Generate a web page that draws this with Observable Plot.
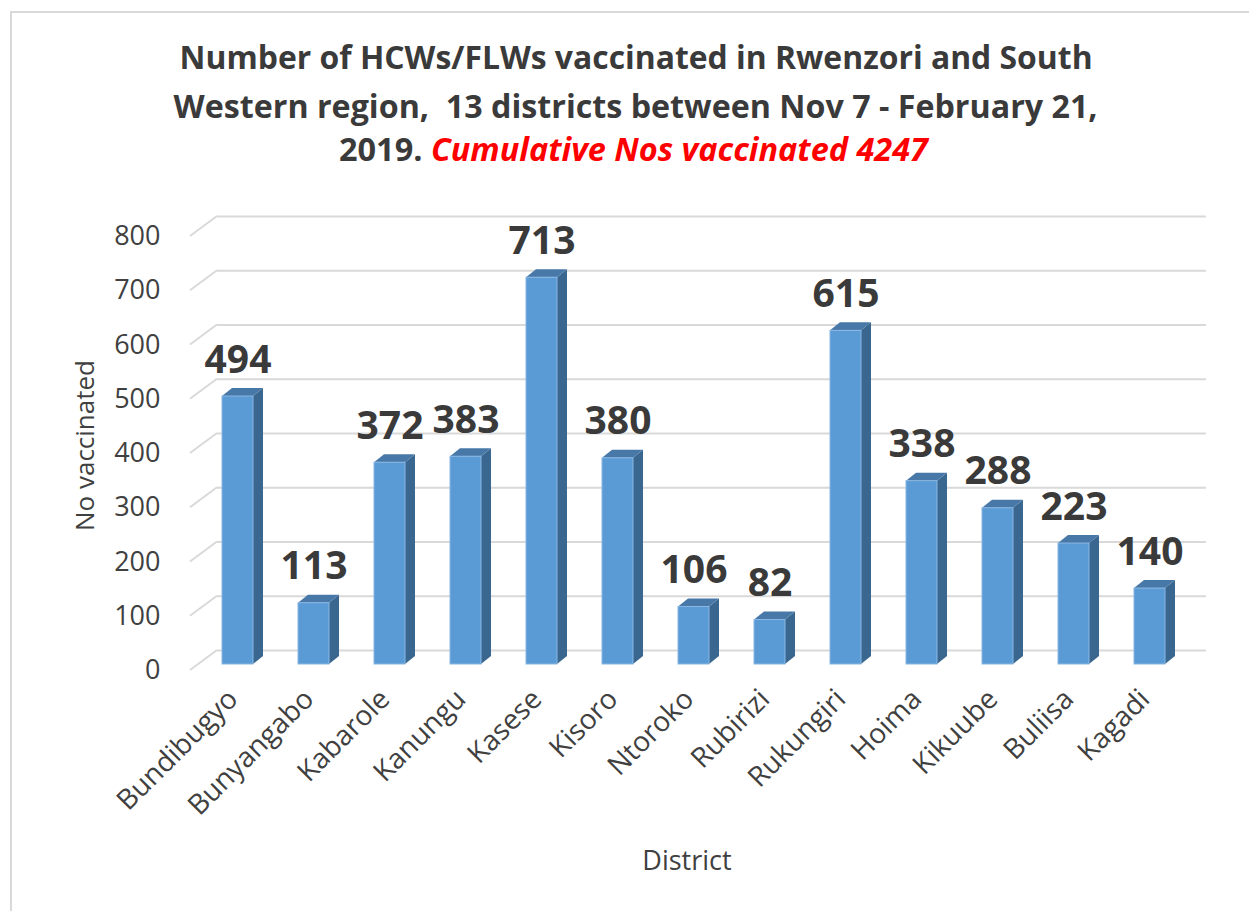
<!DOCTYPE html>
<html><head><meta charset="utf-8">
<script src="https://cdn.jsdelivr.net/npm/d3@7"></script>
<script src="https://cdn.jsdelivr.net/npm/@observablehq/plot@0.6"></script>
<style>
html,body{margin:0;padding:0;background:#fff;}
#wrap{position:relative;width:1249px;height:911px;overflow:hidden;font-family:"Open Sans",sans-serif;}
#frame{position:absolute;left:10px;top:11px;right:-10px;bottom:-10px;border-left:2px solid #d9d9d9;border-top:2px solid #d9d9d9;}
.tl{position:absolute;left:0;width:1249px;text-align:center;font-weight:700;font-size:33px;color:#3a3a3a;white-space:nowrap;line-height:1;}
.tl span.s{display:inline-block;transform-origin:center;}
.red{color:#ff0000;font-style:italic;}
#chart{position:absolute;left:0;top:195px;}
</style></head><body>
<div id="wrap">
<div id="frame"></div>
<div class="tl" id="t1"></div>
<div class="tl" id="t2"></div>
<div class="tl" id="t3"></div>
<div id="chart"></div>
</div>
<script>
const districts = ["Bundibugyo","Bunyangabo","Kabarole","Kanungu","Kasese","Kisoro","Ntoroko","Rubirizi","Rukungiri","Hoima","Kikuube","Buliisa","Kagadi"];
const vaccinated = [494,113,372,383,713,380,106,82,615,338,288,223,140];
const yTicks = [0,100,200,300,400,500,600,700,800];
const titleLine1 = "Number of HCWs/FLWs vaccinated in Rwenzori and South";
const titleLine2 = "Western region,  13 districts between Nov 7 - February 21,";
const titleLine3a = "2019. ";
const titleLine3b = "Cumulative Nos vaccinated 4247";
const yLabel = "No vaccinated";
const xLabel = "District";

// title
function setLine(id, html, top, center, target) {
  const el = document.getElementById(id);
  el.style.top = top + "px";
  el.innerHTML = '<span class="s">' + html + '</span>';
  const s = el.querySelector("span.s");
  const w = s.getBoundingClientRect().width;
  const k = target / w;
  s.style.transform = `translateX(${center - 624.5}px) scaleX(${k})`;
}
setLine("t1", titleLine1.replace(/ {2}/g, " &nbsp;"), 40, 636, 913);
setLine("t2", titleLine2.replace(/ {2}/g, " &nbsp;"), 89, 636, 924);
setLine("t3", titleLine3a + '<span class="red">' + titleLine3b + '</span>', 132, 633.5, 589);

const data = districts.map((d, i) => ({district: d, n: vaccinated[i]}));

const DX = 10, DY = 8, BACK = 20, FRONT = 6;

function diagonals(index, scales, values, dims) {
  const g = d3.create("svg:g");
  const y = scales.y;
  for (const t of yTicks) {
    g.append("line")
      .attr("x1", dims.marginLeft + 13).attr("y1", y(t))
      .attr("x2", dims.marginLeft + 40).attr("y2", y(t) - BACK)
      .attr("stroke", "#d9d9d9").attr("stroke-width", 2);
  }
  return g.node();
}

function faces(index, scales, values, dims) {
  const g = d3.create("svg:g");
  const x = scales.x, y = scales.y;
  const bw = x.bandwidth();
  for (const d of data) {
    const xl = x(d.district), xr = xl + bw;
    const yt = y(d.n) - FRONT, yb = y(0) - FRONT;
    g.append("polygon")
      .attr("points", [[xr, yt], [xr + DX, yt - DY], [xr + DX, yb - DY], [xr, yb]].join(" "))
      .attr("fill", "#3a6790");
    g.append("polygon")
      .attr("points", [[xl, yt], [xl + DX, yt - DY], [xr + DX, yt - DY], [xr, yt]].join(" "))
      .attr("fill", "#4878a8");
  }
  return g.node();
}

const plot = Plot.plot({
  width: 1249, height: 716,
  marginLeft: 177, marginRight: 39, marginTop: 41, marginBottom: 241,
  style: {fontFamily: "Open Sans", fontSize: "26px", color: "#404040", background: "transparent", overflow: "visible"},
  x: {domain: districts, padding: 0.592, align: 0.5},
  y: {domain: [0, 800]},
  marks: [
    Plot.ruleY(yTicks, {dy: -BACK, insetLeft: 40, insetRight: 4, stroke: "#d9d9d9", strokeWidth: 2}),
    diagonals,
    Plot.axisY({ticks: yTicks, tickSize: 0, tickPadding: 17, fontSize: 27, label: null}),
    Plot.axisX({tickSize: 0, tickPadding: 24, dx: -5, tickRotate: -45, fontSize: 28, label: null}),
    Plot.text([yLabel], {frameAnchor: "left", textAnchor: "middle", dx: -92, rotate: -90, fontSize: 26, fill: "#404040", text: d => d, dy: -8}),
    Plot.text([xLabel], {frameAnchor: "bottom", dx: -7, dy: 199, fontSize: 27, fill: "#404040", text: d => d}),
    faces,
    Plot.barY(data, {x: "district", y: "n", dy: -FRONT, fill: "#5b9bd5", stroke: "#8ab6e2", strokeWidth: 1}),
    Plot.text(data, {x: "district", y: "n", text: d => String(d.n), dy: -30, lineAnchor: "bottom", fontSize: 39, fontWeight: 700, fill: "#3a3a3a"})
  ]
});
document.getElementById("chart").appendChild(plot);
</script>
</body></html>
